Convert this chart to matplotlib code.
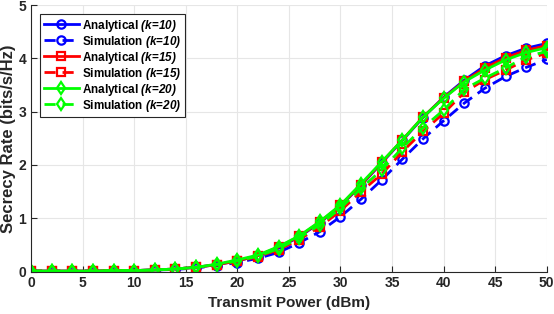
import numpy as np
import matplotlib
matplotlib.use("Agg")
import matplotlib.pyplot as plt

# Transmit power sweep (dBm)
power_dbm = list(range(0, 51, 2))

# Secrecy rate (bits/s/Hz)
ana_k10 = [0.01, 0.01, 0.01, 0.01, 0.02, 0.02, 0.03, 0.05, 0.08, 0.13, 0.20, 0.30, 0.45,
           0.65, 0.92, 1.23, 1.62, 2.04, 2.46, 2.89, 3.27, 3.59, 3.86, 4.05, 4.19, 4.28]
sim_k10 = [0.01, 0.01, 0.01, 0.01, 0.02, 0.02, 0.03, 0.04, 0.07, 0.11, 0.17, 0.25, 0.36,
           0.54, 0.75, 1.03, 1.36, 1.72, 2.11, 2.49, 2.83, 3.16, 3.44, 3.66, 3.83, 3.98]
ana_k15 = [0.01, 0.01, 0.01, 0.01, 0.02, 0.02, 0.03, 0.05, 0.08, 0.13, 0.20, 0.30, 0.46,
           0.66, 0.93, 1.24, 1.63, 2.05, 2.47, 2.90, 3.26, 3.57, 3.82, 4.01, 4.15, 4.24]
sim_k15 = [0.01, 0.01, 0.01, 0.01, 0.02, 0.02, 0.03, 0.05, 0.08, 0.12, 0.19, 0.28, 0.41,
           0.60, 0.84, 1.14, 1.50, 1.83, 2.25, 2.63, 2.97, 3.36, 3.60, 3.78, 3.97, 4.10]
ana_k20 = [0.01, 0.01, 0.01, 0.01, 0.02, 0.02, 0.03, 0.05, 0.08, 0.14, 0.22, 0.31, 0.47,
           0.67, 0.94, 1.25, 1.65, 2.06, 2.47, 2.90, 3.25, 3.56, 3.78, 3.97, 4.11, 4.20]
sim_k20 = [0.01, 0.01, 0.01, 0.01, 0.02, 0.02, 0.03, 0.05, 0.08, 0.13, 0.20, 0.29, 0.43,
           0.63, 0.88, 1.19, 1.56, 1.91, 2.32, 2.70, 3.03, 3.42, 3.63, 3.82, 4.03, 4.13]

plt.rcParams["font.family"] = ["Liberation Sans", "DejaVu Sans"]
plt.rcParams["font.weight"] = "bold"
plt.rcParams["mathtext.fontset"] = "custom"
plt.rcParams["mathtext.it"] = "Liberation Sans:italic:bold"
plt.rcParams["mathtext.rm"] = "Liberation Sans:italic:bold"

fig = plt.figure(figsize=(5.54, 3.14), dpi=100)
ax = fig.add_axes([0.056, 0.135, 0.931, 0.849])

series = [
    (ana_k10, "-", "o", "#0000ff", "Analytical $(k$=$10)$"),
    (sim_k10, "--", "o", "#0000ff", "Simulation $(k$=$10)$"),
    (ana_k15, "-", "s", "#ff0000", "Analytical $(k$=$15)$"),
    (sim_k15, "--", "s", "#ff0000", "Simulation $(k$=$15)$"),
    (ana_k20, "-", "d", "#00ff00", "Analytical $(k$=$20)$"),
    (sim_k20, "--", "d", "#00ff00", "Simulation $(k$=$20)$"),
]
for vals, ls, mk, col, lab in series:
    ax.plot(power_dbm, vals, linestyle=ls, marker=mk, color=col, label=lab,
            linewidth=2.0, markersize=6, markerfacecolor="none",
            markeredgewidth=1.6, dashes=(4, 2.5) if ls == "--" else (None, None))

ax.set_xlim(0, 50)
ax.set_ylim(0, 5)
ax.set_xticks(range(0, 51, 5))
ax.set_yticks(range(0, 6))
ax.grid(True, color="#e6e6e6", linewidth=0.8)
ax.set_axisbelow(True)
for side in ["top", "right"]:
    ax.spines[side].set_visible(False)
for side in ["left", "bottom"]:
    ax.spines[side].set_color("#262626")
    ax.spines[side].set_linewidth(0.8)
ax.tick_params(direction="in", length=4, color="#262626", labelcolor="#262626",
               labelsize=10, width=0.8)
ax.set_xlabel("Transmit Power (dBm)", fontsize=11, fontweight="bold", color="#262626",
              labelpad=4)
ax.set_ylabel("Secrecy Rate (bits/s/Hz)", fontsize=12, fontweight="bold", color="#262626",
              labelpad=2)

leg = ax.legend(loc="upper left", bbox_to_anchor=(0.0174, 0.966), borderaxespad=0,
                fontsize=8.5, handlelength=3.0, handletextpad=0.3, labelspacing=0.0,
                borderpad=0.3, fancybox=False, framealpha=1, edgecolor="#262626")
leg.get_frame().set_linewidth(0.8)

fig.savefig("out.png", dpi=100)
